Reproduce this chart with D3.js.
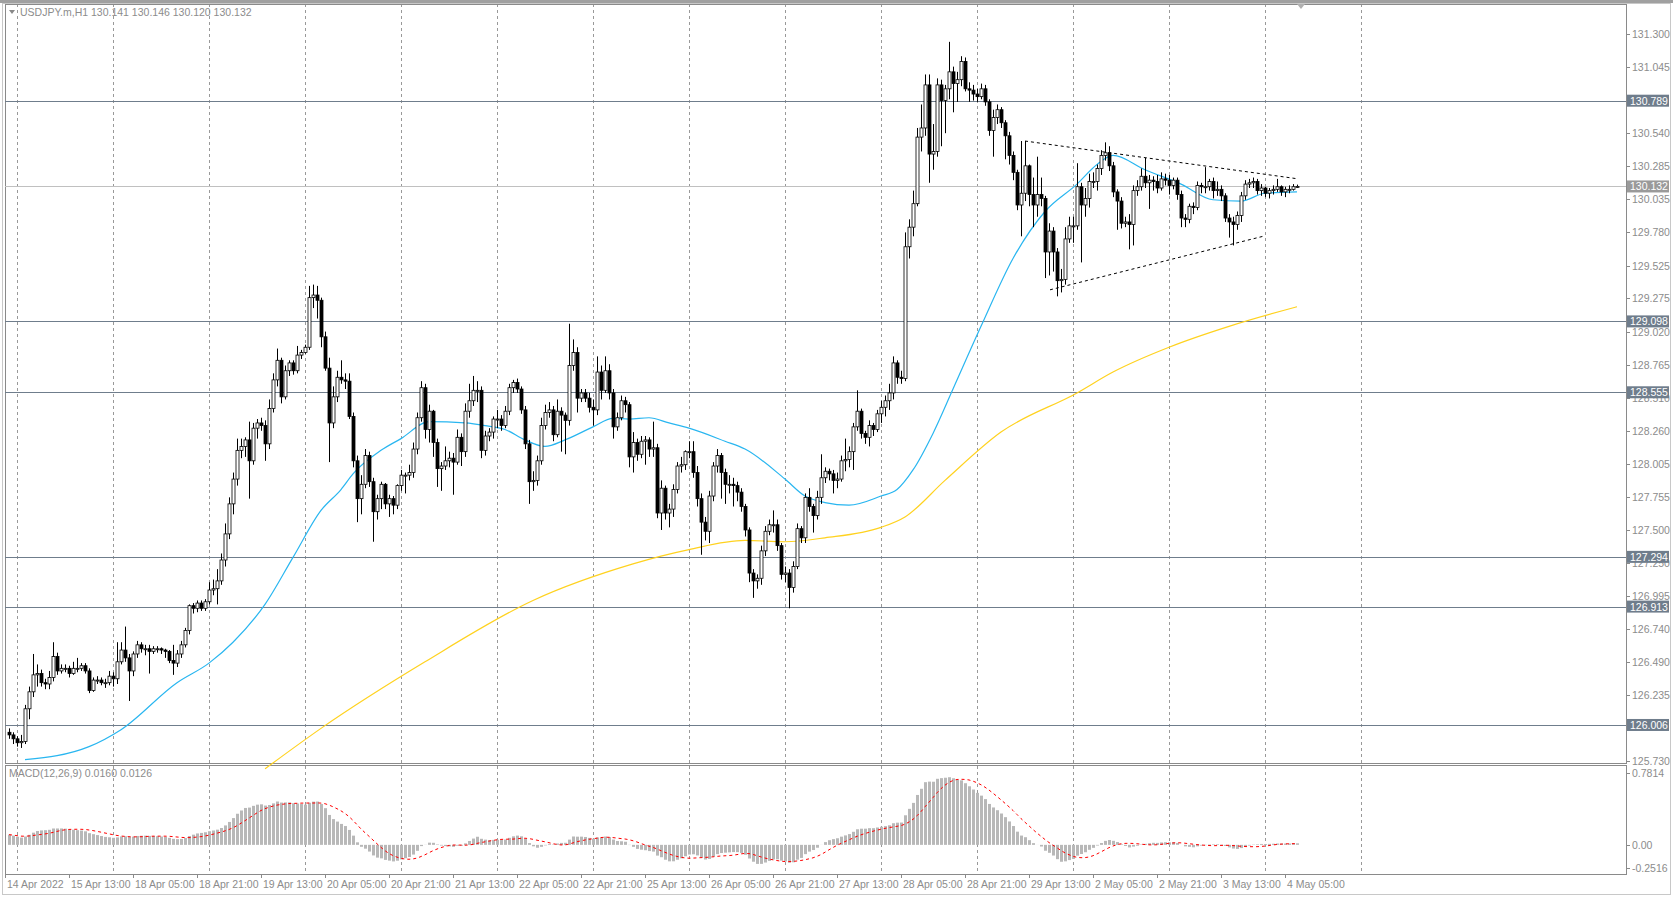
<!DOCTYPE html>
<html>
<head>
<meta charset="utf-8">
<script src="https://cdn.jsdelivr.net/npm/d3@7"></script>
<style>
  body { margin: 0; background: #fff; }
  text { font-family: "Liberation Sans", Arial, sans-serif; font-size: 10.5px; fill: #8c8c8c; }
</style>
</head>
<body>
<div id="chart"></div>
<script>
// hourly closes, 14 Apr - 4 May 2022
const closes = [
  125.93,125.90,125.87,125.88,126.13,126.26,126.39,126.40,126.33,126.32,
  126.37,126.53,126.42,126.44,126.44,126.40,126.44,126.44,126.46,126.42,
  126.27,126.35,126.35,126.33,126.33,126.38,126.36,126.49,126.58,126.52,
  126.42,126.55,126.62,126.59,126.59,126.57,126.59,126.59,126.58,126.57,
  126.50,126.48,126.55,126.62,126.73,126.92,126.90,126.94,126.90,126.95,
  127.04,127.05,127.11,127.27,127.47,127.70,127.89,128.11,128.14,128.19,
  128.03,128.28,128.32,128.30,128.16,128.43,128.65,128.80,128.52,128.72,
  128.78,128.72,128.84,128.86,128.90,129.28,129.30,129.26,128.98,128.74,
  128.32,128.52,128.67,128.65,128.64,128.37,128.03,127.74,127.85,128.07,
  127.87,127.64,127.74,127.85,127.70,127.74,127.69,127.84,127.92,127.92,
  127.94,128.12,128.36,128.59,128.27,128.41,128.17,127.97,127.99,128.03,
  128.05,128.02,128.21,128.10,128.41,128.49,128.57,128.57,128.11,128.22,
  128.25,128.35,128.35,128.30,128.41,128.59,128.63,128.58,128.42,128.16,
  127.87,127.88,128.03,128.30,128.40,128.42,128.23,128.41,128.38,128.34,
  128.76,128.86,128.51,128.55,128.51,128.44,128.42,128.71,128.57,128.72,
  128.55,128.29,128.36,128.49,128.46,128.06,128.17,128.08,128.18,128.19,
  128.12,128.13,127.63,127.82,127.63,127.66,127.81,127.99,128.00,128.10,
  128.10,127.94,127.74,127.56,127.49,127.76,127.99,128.07,127.94,127.85,
  127.85,127.84,127.79,127.68,127.50,127.17,127.11,127.13,127.34,127.49,
  127.54,127.54,127.38,127.16,127.17,127.06,127.22,127.51,127.44,127.75,
  127.68,127.61,127.75,127.90,127.95,127.93,127.88,127.89,128.03,128.04,
  128.10,128.29,128.41,128.24,128.21,128.30,128.27,128.39,128.44,128.49,
  128.55,128.78,128.67,128.66,129.67,129.82,130.00,130.51,130.58,130.91,
  130.38,130.40,130.91,130.79,130.88,131.01,130.92,130.95,131.09,130.88,
  130.87,130.84,130.82,130.88,130.78,130.56,130.66,130.72,130.62,130.52,
  130.37,130.24,129.99,130.08,130.29,130.07,129.99,130.07,130.04,129.63,
  129.79,129.63,129.41,129.42,129.73,129.83,129.83,130.13,129.99,130.04,
  130.17,130.17,130.27,130.37,130.39,130.29,130.09,130.02,129.85,129.86,
  129.84,130.10,130.13,130.21,130.16,130.18,130.17,130.12,130.19,130.18,
  130.14,130.18,130.07,129.89,129.88,129.98,129.97,130.14,130.13,130.13,
  130.17,130.10,130.11,130.06,129.89,129.86,129.84,129.91,130.06,130.15,
  130.16,130.17,130.10,130.12,130.08,130.10,130.11,130.13,130.09,130.11,
  130.11,130.13,130.132
];
const highs = [
  125.98,125.95,125.92,125.93,126.16,126.30,126.55,126.47,126.43,126.36,
  126.42,126.64,126.56,126.47,126.47,126.46,126.49,126.52,126.48,126.48,
  126.44,126.37,126.38,126.37,126.36,126.42,126.41,126.64,126.64,126.76,
  126.55,126.57,126.65,126.64,126.62,126.62,126.61,126.61,126.60,126.59,
  126.58,126.62,126.58,126.65,126.75,126.93,126.94,126.96,126.96,126.97,
  127.10,127.12,127.20,127.32,127.55,127.75,127.94,128.20,128.20,128.21,
  128.33,128.32,128.35,128.36,128.34,128.50,128.70,128.89,128.82,128.76,
  128.80,128.80,128.91,128.88,128.92,129.37,129.38,129.37,129.28,129.02,
  128.82,128.60,128.72,128.80,128.70,128.70,128.40,128.07,127.92,128.12,
  128.10,127.90,127.77,127.87,127.86,127.77,127.76,127.85,127.96,127.94,
  128.00,128.17,128.40,128.64,128.62,128.46,128.42,128.20,128.02,128.14,
  128.10,128.09,128.27,128.24,128.47,128.62,128.68,128.64,128.60,128.26,
  128.28,128.37,128.42,128.38,128.45,128.62,128.65,128.66,128.60,128.45,
  128.19,127.95,128.07,128.36,128.46,128.48,128.45,128.50,128.44,128.40,
  129.08,128.96,128.90,128.58,128.58,128.55,128.50,128.83,128.76,128.83,
  128.77,128.58,128.40,128.53,128.52,128.48,128.25,128.20,128.22,128.22,
  128.21,128.33,128.16,127.88,127.84,127.70,127.85,128.02,128.06,128.11,
  128.18,128.18,127.99,127.78,127.60,127.80,128.02,128.12,128.09,127.97,
  127.92,127.90,127.87,127.82,127.70,127.52,127.20,127.16,127.38,127.53,
  127.58,127.65,127.58,127.40,127.22,127.20,127.26,127.55,127.53,127.78,
  127.82,127.70,127.80,128.08,127.98,127.97,127.96,127.94,128.07,128.20,
  128.14,128.32,128.57,128.43,128.26,128.34,128.32,128.42,128.49,128.53,
  128.62,128.83,128.80,128.72,129.78,129.88,130.10,130.58,130.76,130.99,
  130.99,130.61,130.96,130.95,130.91,131.24,131.05,131.01,131.13,131.12,
  130.93,130.91,130.88,130.92,130.91,130.80,130.72,130.76,130.74,130.64,
  130.55,130.40,130.26,130.48,130.48,130.30,130.20,130.36,130.20,130.06,
  129.85,129.82,129.66,129.50,129.82,129.90,129.90,130.31,130.16,130.12,
  130.23,130.24,130.30,130.41,130.47,130.44,130.32,130.11,130.05,129.90,
  129.92,130.14,130.18,130.27,130.35,130.22,130.21,130.22,130.24,130.23,
  130.22,130.20,130.20,130.10,129.92,130.00,130.01,130.17,130.16,130.28,
  130.19,130.20,130.17,130.14,130.08,129.92,129.90,129.94,130.09,130.18,
  130.19,130.20,130.19,130.15,130.13,130.12,130.14,130.19,130.14,130.13,
  130.14,130.15,130.146
];
const lows = [
  125.90,125.86,125.84,125.83,125.86,126.05,126.22,126.30,126.30,126.28,
  126.28,126.34,126.39,126.40,126.41,126.37,126.39,126.41,126.42,126.40,
  126.25,126.26,126.32,126.31,126.29,126.31,126.30,126.32,126.47,126.49,
  126.19,126.38,126.52,126.56,126.54,126.40,126.55,126.56,126.55,126.52,
  126.48,126.39,126.45,126.52,126.60,126.70,126.86,126.87,126.88,126.88,
  126.93,127.00,126.93,127.08,127.22,127.43,127.62,127.84,128.05,128.06,
  127.74,128.00,128.20,128.26,128.03,128.12,128.40,128.60,128.47,128.50,
  128.68,128.69,128.70,128.81,128.85,128.88,129.20,129.12,128.90,128.72,
  128.02,128.28,128.48,128.62,128.58,128.35,127.98,127.56,127.62,127.82,
  127.83,127.41,127.58,127.66,127.66,127.60,127.62,127.66,127.80,127.78,
  127.88,127.90,128.08,128.33,128.20,128.17,128.06,127.83,127.80,127.96,
  127.98,127.77,128.00,127.99,128.06,128.36,128.45,128.48,128.05,128.07,
  128.18,128.20,128.28,128.26,128.28,128.38,128.55,128.55,128.39,128.12,
  127.70,127.80,127.84,128.00,128.27,128.36,128.18,128.21,128.10,128.08,
  128.30,128.72,128.40,128.48,128.48,128.40,128.30,128.38,128.50,128.55,
  128.50,128.20,128.26,128.34,128.40,127.98,127.94,128.03,128.05,128.00,
  128.06,128.06,127.59,127.50,127.58,127.52,127.60,127.78,127.94,127.96,
  128.05,127.90,127.68,127.31,127.42,127.40,127.72,127.94,127.74,127.70,
  127.78,127.68,127.72,127.64,127.45,127.10,126.98,127.05,127.08,127.30,
  127.46,127.48,127.34,127.12,127.10,126.90,127.02,127.20,127.40,127.40,
  127.64,127.48,127.58,127.70,127.86,127.88,127.78,127.82,127.87,127.95,
  127.98,127.96,128.26,128.20,128.16,128.14,128.22,128.25,128.32,128.37,
  128.42,128.50,128.62,128.62,128.64,129.58,129.75,129.98,130.40,130.52,
  130.16,130.26,130.36,130.44,130.54,130.80,130.70,130.78,130.90,130.86,
  130.78,130.79,130.78,130.80,130.75,130.52,130.36,130.61,130.58,130.34,
  130.30,130.18,129.95,129.75,130.02,129.98,129.82,129.90,129.98,129.43,
  129.45,129.48,129.29,129.32,129.38,129.70,129.70,129.80,129.55,129.90,
  129.97,130.12,130.10,130.22,130.33,130.25,130.05,129.80,129.81,129.82,
  129.65,129.68,130.06,130.10,130.12,129.96,130.10,130.08,130.10,130.14,
  130.07,130.11,130.03,129.82,129.82,129.85,129.92,129.95,130.08,130.08,
  130.10,130.04,130.06,130.02,129.86,129.74,129.68,129.80,129.86,130.03,
  130.12,130.12,130.07,130.06,130.05,130.04,130.07,130.09,130.06,130.05,
  130.08,130.10,130.120
];
const firstOpen = 125.95;

// moving averages, sampled [bar, price]
const maFast = [[4,125.74],[20,125.84],[28,125.97],[42,126.33],[50,126.48],[56,126.64],[64,126.93],
  [71,127.29],[78,127.65],[83,127.81],[86,127.93],[93,128.11],[98,128.20],[105,128.33],[114,128.32],
  [119,128.30],[124,128.27],[129,128.19],[134,128.14],[139,128.19],[146,128.29],[151,128.355],
  [155,128.35],[160,128.36],[165,128.32],[170,128.28],[179,128.18],[184,128.12],[194,127.89],
  [199,127.76],[204,127.71],[210,127.69],[218,127.76],[222,127.81],[226,127.96],[231,128.24],
  [236,128.58],[243,129.06],[251,129.58],[259,129.94],[267,130.15],[272,130.30],[276,130.37],
  [284,130.26],[293,130.15],[301,130.03],[308,130.02],[314,130.08],[322,130.09]];
const maSlow = [[64,125.67],[78,125.98],[104,126.49],[131,126.96],
  [156,127.24],[163,127.30],[170,127.35],[184,127.42],[194,127.41],[204,127.44],[218,127.52],
  [224,127.60],[234,127.88],[248,128.25],[267,128.55],[276,128.71],[290,128.90],[305,129.06],[322,129.21]];

const levels = [130.789, 129.098, 128.555, 127.294, 126.913, 126.006];
const lastPrice = 130.132;
const priceTicks = [131.300,131.045,130.540,130.285,130.035,129.780,129.525,129.275,129.020,128.765,
  128.510,128.260,128.005,127.755,127.500,127.250,126.995,126.740,126.490,126.235,125.730];
const triUpper = [[254,130.48],[322.3,130.19]];
const triLower = [[260.25,129.34],[313.5,129.75]];

const timeBars = [-1,15,31,47,63,79,95,111,127,143,159,175,191,207,223,239,255,271,287,303,319];
const timeLabels = ["14 Apr 2022","15 Apr 13:00","18 Apr 05:00","18 Apr 21:00","19 Apr 13:00",
  "20 Apr 05:00","20 Apr 21:00","21 Apr 13:00","22 Apr 05:00","22 Apr 21:00","25 Apr 13:00",
  "26 Apr 05:00","26 Apr 21:00","27 Apr 13:00","28 Apr 05:00","28 Apr 21:00","29 Apr 13:00",
  "2 May 05:00","2 May 21:00","3 May 13:00","4 May 05:00"];
const gridBars = d3.range(2, 340, 24);
const macdTicks = [0.7814, 0.00, -0.2516];
const macdSeed = 0.12;

const W = 1673, H = 897;
const L = 5, R = 1626, pTop = 4, pBot = 763, mTop = 765, mBot = 874;

const svg = d3.select("#chart").append("svg").attr("width", W).attr("height", H);
svg.append("rect").attr("x", 0).attr("y", 0).attr("width", W).attr("height", 3).attr("fill", "#a0a0a0");
svg.append("rect").attr("x", 2.5).attr("y", 3.5).attr("width", 1668).attr("height", 891)
  .attr("fill", "none").attr("stroke", "#c8c8c8");

const x = d3.scaleLinear().domain([0, 100]).range([9, 409]);
const y = d3.scaleLinear().domain([131.3, 125.73]).range([34, 761]);
const ym = d3.scaleLinear().domain([0.7814, -0.2516]).range([773, 868]);

const bars = closes.map((c, i) => ({
  i, o: i ? closes[i - 1] : firstOpen, c, h: highs[i], l: lows[i]
}));

// grid
svg.append("g").selectAll("line").data(gridBars).join("line")
  .attr("x1", d => Math.round(x(d)) + 0.5).attr("x2", d => Math.round(x(d)) + 0.5)
  .attr("y1", pTop).attr("y2", mBot)
  .attr("stroke", "#999").attr("stroke-dasharray", "3,3");

// pane frames
svg.append("rect").attr("x", L + 0.5).attr("y", pTop + 0.5).attr("width", R - L).attr("height", pBot - pTop)
  .attr("fill", "none").attr("stroke", "#8a8a8a");
svg.append("rect").attr("x", L + 0.5).attr("y", mTop + 0.5).attr("width", R - L).attr("height", mBot - mTop)
  .attr("fill", "none").attr("stroke", "#8a8a8a");

// horizontal levels
svg.append("g").selectAll("line").data(levels).join("line")
  .attr("x1", L).attr("x2", R).attr("y1", d => Math.round(y(d)) + 0.5).attr("y2", d => Math.round(y(d)) + 0.5)
  .attr("stroke", "#6f7d8c").attr("stroke-width", 1.2);
svg.append("line").attr("x1", L).attr("x2", R)
  .attr("y1", Math.round(y(lastPrice)) + 0.5).attr("y2", Math.round(y(lastPrice)) + 0.5)
  .attr("stroke", "#c0c0c0");

// moving averages
const maLine = d3.line().x(d => x(d[0])).y(d => y(d[1])).curve(d3.curveMonotoneX);
svg.append("path").attr("d", maLine(maSlow)).attr("fill", "none").attr("stroke", "#ffd21f").attr("stroke-width", 1.2);
svg.append("path").attr("d", maLine(maFast)).attr("fill", "none").attr("stroke", "#29b6f0").attr("stroke-width", 1.2);

// triangle
const tri = d3.line().x(d => x(d[0])).y(d => y(d[1]));
[triUpper, triLower].forEach(t => svg.append("path").attr("d", tri(t))
  .attr("fill", "none").attr("stroke", "#000").attr("stroke-dasharray", "3,3"));

// candles
const cg = svg.append("g");
cg.selectAll("line").data(bars).join("line")
  .attr("x1", d => Math.round(x(d.i)) + 0.5).attr("x2", d => Math.round(x(d.i)) + 0.5)
  .attr("y1", d => y(d.h)).attr("y2", d => y(d.l)).attr("stroke", "#000");
cg.selectAll("rect").data(bars).join("rect")
  .attr("x", d => Math.round(x(d.i)) - 1)
  .attr("y", d => y(Math.max(d.o, d.c)))
  .attr("width", 3)
  .attr("height", d => Math.max(1, Math.abs(y(d.o) - y(d.c))))
  .attr("fill", d => d.c >= d.o ? "#fff" : "#000")
  .attr("stroke", "#000").attr("stroke-width", 0.8);

// price axis
const pa = svg.append("g");
pa.selectAll("line").data(priceTicks).join("line")
  .attr("x1", R).attr("x2", R + 4).attr("y1", d => Math.round(y(d)) + 0.5).attr("y2", d => Math.round(y(d)) + 0.5)
  .attr("stroke", "#8a8a8a");
pa.selectAll("text").data(priceTicks).join("text")
  .attr("x", R + 6).attr("y", d => y(d) + 4).text(d => d.toFixed(3));
const hl = [...levels.map(v => ({ v, c: "#6f7d8c" })), { v: lastPrice, c: "#9a9a9a" }];
const hg = pa.selectAll("g.hl").data(hl).join("g");
hg.append("rect").attr("x", R + 1).attr("y", d => y(d.v) - 6).attr("width", 42).attr("height", 12).attr("fill", d => d.c);
hg.append("text").attr("x", R + 4).attr("y", d => y(d.v) + 4).style("fill", "#fff").text(d => d.v.toFixed(3));

// MACD (12,26,9)
const k12 = 2 / 13, k26 = 2 / 27;
let e12 = closes[0], e26 = closes[0] - macdSeed;
const macd = closes.map(c => {
  e12 = e12 + k12 * (c - e12);
  e26 = e26 + k26 * (c - e26);
  return e12 - e26;
});
const signal = macd.map((v, i) => d3.mean(macd.slice(Math.max(0, i - 8), i + 1)));

svg.append("g").selectAll("rect").data(macd).join("rect")
  .attr("x", (d, i) => Math.round(x(i)) - 1).attr("width", 3)
  .attr("y", d => Math.min(ym(d), ym(0))).attr("height", d => Math.abs(ym(d) - ym(0)))
  .attr("fill", "#b8b8b8");
svg.append("path").attr("d", d3.line().x((d, i) => x(i)).y(d => ym(d))(signal))
  .attr("fill", "none").attr("stroke", "#f00").attr("stroke-dasharray", "3,3");

const ma = svg.append("g");
ma.selectAll("line").data(macdTicks).join("line")
  .attr("x1", R).attr("x2", R + 4).attr("y1", d => Math.round(ym(d)) + 0.5).attr("y2", d => Math.round(ym(d)) + 0.5)
  .attr("stroke", "#8a8a8a");
ma.selectAll("text").data(macdTicks).join("text")
  .attr("x", R + 6).attr("y", d => ym(d) + 4).text(d => d === 0 ? "0.00" : d.toFixed(4));

// time axis
const ta = svg.append("g");
ta.selectAll("line").data(timeBars).join("line")
  .attr("x1", d => Math.round(x(d)) + 0.5).attr("x2", d => Math.round(x(d)) + 0.5)
  .attr("y1", mBot).attr("y2", mBot + 4).attr("stroke", "#8a8a8a");
ta.selectAll("text").data(timeBars).join("text")
  .attr("x", d => x(d) + 2).attr("y", 888).text((d, i) => timeLabels[i]);

// titles
svg.append("path").attr("d", "M9,10 L15,10 L12,14 Z").attr("fill", "#888");
svg.append("text").attr("x", 20).attr("y", 16).text("USDJPY.m,H1  130.141 130.146 130.120 130.132");
svg.append("text").attr("x", 9).attr("y", 777).text("MACD(12,26,9) 0.0160 0.0126");
svg.append("path").attr("d", "M1297,4 L1305,4 L1301,9 Z").attr("fill", "#b0b0b0");
</script>
</body>
</html>
